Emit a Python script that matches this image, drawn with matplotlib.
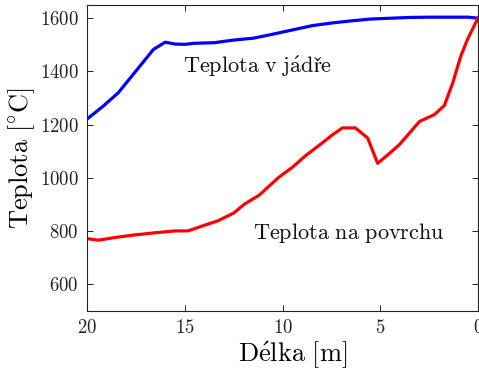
import numpy as np
import matplotlib
matplotlib.use("Agg")
import matplotlib.pyplot as plt

plt.rcParams['font.family'] = 'serif'
plt.rcParams['font.serif'] = ['cmr10']
plt.rcParams['mathtext.fontset'] = 'cm'
plt.rcParams['axes.formatter.use_mathtext'] = True

# teplota v jadre (modra)
x_core = [20, 19.2, 18.4, 17.55, 16.6, 16.0, 15.5, 15.0, 14.5, 13.5, 12.5, 11.5,
          10.5, 9.5, 8.5, 7.5, 6.5, 5.5, 4.5, 3.5, 2.5, 1.5, 0.5, 0]
t_core = [1221, 1268, 1320, 1397, 1483, 1510, 1503, 1502, 1506, 1508, 1518, 1525,
          1540, 1556, 1572, 1582, 1590, 1597, 1600, 1603, 1604, 1604, 1604, 1600]

# teplota na povrchu (cervena)
x_surf = [20, 19.42, 18.5, 17.55, 16.5, 15.5, 14.83, 14.0, 13.3, 12.5, 11.94, 11.2,
          10.2, 9.5, 8.8, 8.0, 7.45, 6.94, 6.28, 5.65, 5.14, 4.6, 4.03, 3.0,
          2.24, 1.73, 1.3, 0.9, 0.55, 0]
t_surf = [772, 766, 777, 786, 794, 801, 801, 822, 839, 868, 902, 935,
          1002, 1040, 1085, 1130, 1162, 1188, 1188, 1150, 1055, 1088, 1125, 1212,
          1238, 1272, 1357, 1455, 1520, 1602]

xticks = [20, 15, 10, 5, 0]
yticks = [600, 800, 1000, 1200, 1400, 1600]

fig = plt.figure(figsize=(4.79, 3.71), dpi=100)
ax = fig.add_axes([0.1816, 0.1617, 0.8167, 0.825])

ax.plot(x_core, t_core, color=(0, 0, 1), lw=2.3)
ax.plot(x_surf, t_surf, color=(1, 0, 0), lw=2.3)

ax.set_xlim(20, 0)
ax.set_ylim(500, 1650)
ax.set_xticks(xticks)
ax.set_yticks(yticks)
ax.tick_params(direction='in', top=True, right=True, length=4, width=0.7,
               labelsize=13.5, colors='#222222', pad=6)
for s in ax.spines.values():
    s.set_linewidth(0.8)
    s.set_color('#222222')

ax.text(15.1, 1396, r'$\mathrm{Teplota\ v\ j\acute{a}dře}$', fontsize=16,
        va='baseline', ha='left', color='#111111')
ax.text(11.5, 770, r'$\mathrm{Teplota\ na\ povrchu}$', fontsize=16,
        va='baseline', ha='left', color='#111111')

ax.set_xlabel(r'$\mathrm{D\acute{e}lka\ [m]}$', fontsize=19, labelpad=2)
ax.xaxis.label.set_x(0.527)
ax.set_ylabel(r'$\mathrm{Teplota\ [{}^{\circ}C]}$', fontsize=19, labelpad=2)

fig.savefig('out.png', dpi=100)
